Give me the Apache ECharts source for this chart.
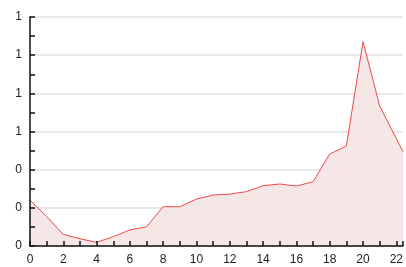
<!DOCTYPE html>
<html>
<head>
<meta charset="utf-8">
<script src="https://cdn.jsdelivr.net/npm/echarts@6/dist/echarts.min.js"></script>
<style>
  html, body { margin: 0; padding: 0; background: #fff; }
  #chart { width: 406px; height: 267px; }
</style>
</head>
<body>
<div id="chart"></div>
<script>
  // values
  var xValues = [0, 1, 2, 3, 4, 5, 6, 7, 8, 9, 10, 11, 12, 13, 14, 15, 16, 17, 18, 19, 20, 21, 22.4];
  var yValues = [0.241, 0.154, 0.061, 0.038, 0.019, 0.049, 0.084, 0.101, 0.206, 0.206, 0.246, 0.267,
                 0.272, 0.285, 0.316, 0.325, 0.314, 0.337, 0.482, 0.524, 1.071, 0.734, 0.494];

  var points = xValues.map(function (x, i) { return [x, yValues[i]]; });

  var myChart = echarts.init(document.getElementById('chart'));

  var axisText = { color: '#222', fontFamily: 'Liberation Sans', fontSize: 12 };
  var dark = { color: '#111', width: 1.5 };

  myChart.setOption({
    animation: false,
    grid: { left: 30, right: 0, top: 17, bottom: 21 },
    xAxis: {
      type: 'value',
      min: 0,
      max: 'dataMax',
      interval: 2,
      z: 10,
      axisLine: { lineStyle: dark },
      axisTick: { inside: true, length: 5, lineStyle: dark },
      minorTick: { show: true, splitNumber: 2, length: 5, lineStyle: dark },
      splitLine: { show: false },
      axisLabel: Object.assign({ margin: 8 }, axisText)
    },
    yAxis: [
      {
        // grid lines only, kept behind the area
        type: 'value',
        min: 0,
        max: 1.2,
        interval: 0.2,
        axisLine: { show: false },
        axisTick: { show: false },
        axisLabel: { show: false },
        splitLine: { lineStyle: { color: '#e2e2e2', width: 1.5 } }
      },
      {
        // axis line, ticks and labels drawn on top
        type: 'value',
        position: 'left',
        min: 0,
        max: 1.2,
        interval: 0.2,
        z: 10,
        axisLine: { show: true, lineStyle: dark },
        axisTick: { show: true, inside: true, length: 5, lineStyle: dark },
        minorTick: { show: true, splitNumber: 2, length: 5, lineStyle: dark },
        splitLine: { show: false },
        axisLabel: Object.assign({
          margin: 8,
          formatter: function (v) { return String(Math.round(v)); }
        }, axisText)
      }
    ],
    series: [{
      type: 'line',
      yAxisIndex: 0,
      data: points,
      symbol: 'none',
      lineStyle: { color: '#f04848', width: 1 },
      areaStyle: { color: '#f6e7e7', opacity: 1 }
    }]
  });
</script>
</body>
</html>
